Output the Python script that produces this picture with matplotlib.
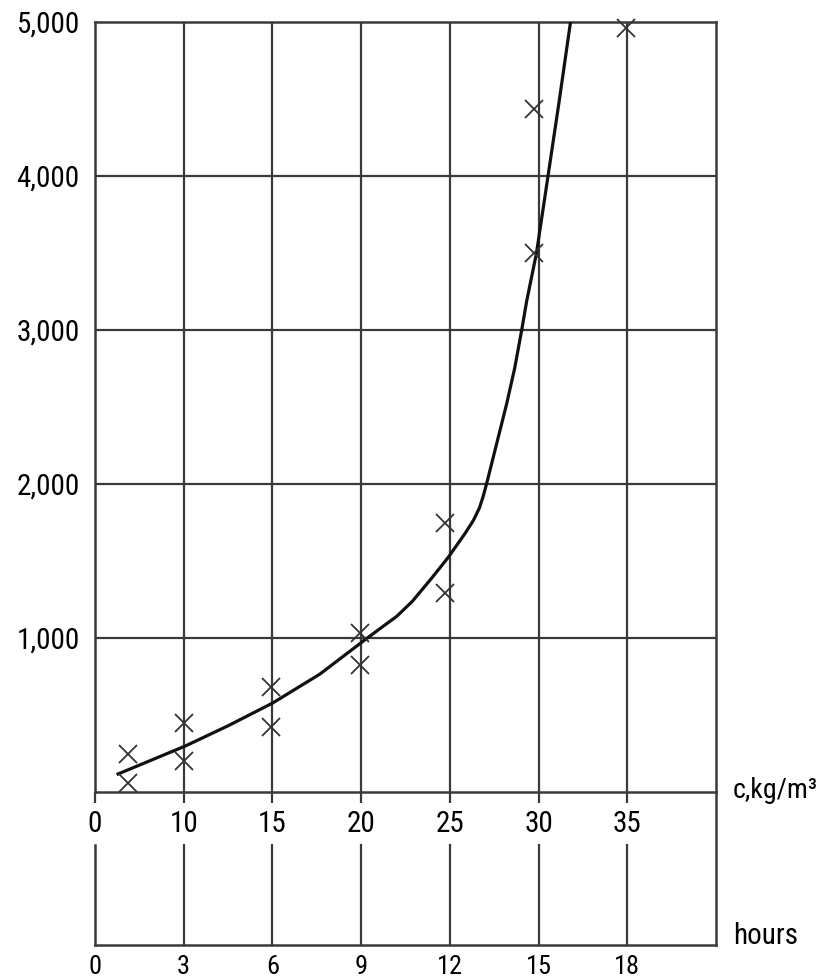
import matplotlib
matplotlib.use("Agg")
import matplotlib.pyplot as plt

plt.rcParams['font.family'] = ['Roboto Condensed', 'Lato', 'DejaVu Sans']

# x positions are in hours; the c-axis labels sit on the same gridlines
hours_ticks = [0, 3, 6, 9, 12, 15, 18]
c_labels = ['0', '10', '15', '20', '25', '30', '35']
y_ticks = [1000, 2000, 3000, 4000, 5000]
y_labels = ['1,000', '2,000', '3,000', '4,000', '5,000']

# measured points (x markers)
pts_h = [1.1, 1.1, 3.0, 3.0, 5.95, 5.95, 8.95, 8.95, 11.85, 11.85, 14.85, 14.85, 17.95]
pts_v = [250, 60, 450, 200, 680, 420, 1030, 825, 1745, 1290, 4435, 3500, 4960]

# fitted curve
curve_h = [0.78, 3.07, 4.5, 6.01, 7.6, 9.12, 9.63, 10.2, 10.74, 11.39, 11.93,
           12.5, 12.8, 13.0, 13.12, 13.24, 13.58, 13.92, 14.19, 14.43, 14.6, 14.93,
           15.3, 15.7, 16.08]
curve_v = [117, 300, 430, 578, 765, 987, 1060, 1140, 1240, 1390, 1520,
           1675, 1765, 1845, 1915, 2000, 2260, 2520, 2750, 3000, 3190, 3500,
           3975, 4490, 5000]

W, H = 820, 980
fig = plt.figure(figsize=(8.2, 9.8), dpi=100)

L, R = 95, 716
top, base, hbase = 22, 792, 945
grid_c = '#3a3a3a'
fs = 21

ax = fig.add_axes([L / W, (H - base) / H, (R - L) / W, (base - top) / H])
ax.set_xlim(0, 21)
ax.set_ylim(0, 5000)
for h in hours_ticks[1:]:
    ax.axvline(h, color=grid_c, lw=1.6, zorder=1)
for v in y_ticks[:-1]:
    ax.axhline(v, color=grid_c, lw=1.6, zorder=1)
for s in ax.spines.values():
    s.set_color(grid_c)
    s.set_linewidth(1.8)
ax.set_xticks(hours_ticks)
ax.set_xticklabels(c_labels)
ax.set_yticks(y_ticks)
ax.set_yticklabels(y_labels)
ax.tick_params(axis='x', length=8, width=1.6, color=grid_c, pad=5, labelsize=fs)
ax.tick_params(axis='y', length=0, pad=11, labelsize=fs)

ax.plot(curve_h, curve_v, color='#111111', lw=2.3, zorder=3)
ax.plot(pts_h, pts_v, 'x', color='#333333', ms=13, mew=1.3, zorder=4, clip_on=False)

# lower hours scale
lower_top = 845
ax2 = fig.add_axes([L / W, (H - hbase) / H, (R - L) / W, (hbase - base) / H])
ax2.patch.set_visible(False)
ax2.set_xlim(0, 21)
ax2.set_ylim(0, 1)
frac = (hbase - lower_top) / (hbase - base)
for h in hours_ticks:
    ax2.axvline(h, ymin=0, ymax=frac, color=grid_c, lw=1.8 if h == 0 else 1.6, clip_on=False)
ax2.spines['top'].set_visible(False)
ax2.spines['left'].set_visible(False)
for s in ['right', 'bottom']:
    ax2.spines[s].set_color(grid_c)
    ax2.spines[s].set_linewidth(1.8)
ax2.set_yticks([])
ax2.set_xticks(hours_ticks)
ax2.set_xticklabels([str(h) for h in hours_ticks])
ax2.tick_params(axis='x', length=0, pad=7, labelsize=fs - 2)

fig.text(733 / W, 1 - 790 / H, 'c,kg/m³', fontsize=fs - 1, va='center', ha='left')
fig.text(733 / W, 1 - 936 / H, 'hours', fontsize=fs, va='center', ha='left')

fig.savefig('out.png', dpi=100)
